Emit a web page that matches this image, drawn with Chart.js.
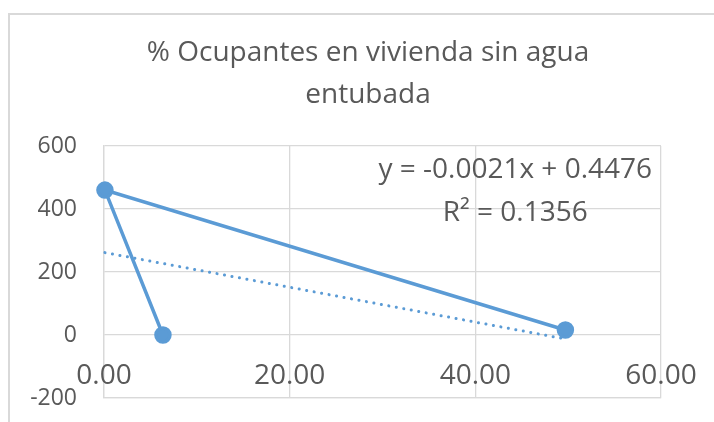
<!DOCTYPE html>
<html>
<head>
<meta charset="utf-8">
<script src="https://cdn.jsdelivr.net/npm/chart.js@4.4.1/dist/chart.umd.min.js"></script>
<style>
  body { margin: 0; background: #fff; }
  #wrap { position: relative; width: 714px; height: 422px; overflow: hidden; }
  #frame { position: absolute; left: 8px; top: 13px; width: 760px; height: 460px; border: 2px solid #D9D9D9; }
  canvas { position: absolute; left: 0; top: 0; }
</style>
</head>
<body>
<div id="wrap">
  <div id="frame"></div>
  <canvas id="scatterChart" width="714" height="422"></canvas>
</div>
<script>
const titleLines = ['% Ocupantes en vivienda sin agua', 'entubada']
const xValues = [6.35, 0.1, 49.7]
const yValues = [0, 460, 16]
const equationLines = ['y = -0.0021x + 0.4476', 'R² = 0.1356']

const blue = '#5B9BD5'
const grey = '#595959'
const gridColor = '#D9D9D9'
const fontFamily = '"Open Sans", "Noto Sans", sans-serif'

// linear trendline (least squares) over the plotted points
const n = xValues.length
const meanX = xValues.reduce((a, b) => a + b, 0) / n
const meanY = yValues.reduce((a, b) => a + b, 0) / n
let sxx = 0, sxy = 0
xValues.forEach((x, i) => {
    sxx += (x - meanX) * (x - meanX)
    sxy += (x - meanX) * (yValues[i] - meanY)
})
const slope = sxy / sxx
const intercept = meanY - slope * meanX
const minX = Math.min(...xValues)
const maxX = Math.max(...xValues)

// title, equation box and x tick labels (Excel puts these inside the plot)
const textLayer = {
    id: 'textLayer',
    afterDraw(chart) {
        const {ctx, scales} = chart
        ctx.save()
        ctx.fillStyle = grey
        ctx.textAlign = 'center'
        ctx.textBaseline = 'middle'

        ctx.font = '28px ' + fontFamily
        titleLines.forEach((line, i) => ctx.fillText(line, 368, 53 + i * 42))

        const cx = scales.x.getPixelForValue(44.3)
        ctx.fillText(equationLines[0], cx, scales.y.getPixelForValue(525))
        ctx.fillText(equationLines[1], cx, scales.y.getPixelForValue(387))

        ctx.font = '28px ' + fontFamily
        const ly = scales.y.getPixelForValue(-200) - 22
        scales.x.ticks.forEach(t => {
            ctx.fillText(t.value.toFixed(2), scales.x.getPixelForValue(t.value), ly)
        })
        ctx.restore()
    }
}

const ctl = document.getElementById('scatterChart')
window.newChart = new Chart(ctl, {
    type: 'scatter',
    data: {
        datasets: [
            {
                data: xValues.map((x, i) => ({x: x, y: yValues[i]})),
                showLine: true,
                borderColor: blue,
                backgroundColor: blue,
                borderWidth: 3.5,
                pointRadius: 7,
                pointHoverRadius: 7,
                clip: false,
                order: 1
            },
            {
                data: [
                    {x: minX, y: intercept + slope * minX},
                    {x: maxX, y: intercept + slope * maxX}
                ],
                showLine: true,
                borderColor: blue,
                borderWidth: 3,
                borderDash: [0.1, 7.5],
                borderCapStyle: 'round',
                pointRadius: 0,
                clip: false,
                order: 2
            }
        ]
    },
    options: {
        responsive: false,
        animation: false,
        events: [],
        layout: {
            padding: {left: 0, right: 53, top: 146, bottom: 0}
        },
        plugins: {
            legend: {display: false},
            tooltip: {enabled: false},
            title: {display: false}
        },
        scales: {
            x: {
                type: 'linear',
                position: 'bottom',
                min: 0,
                max: 60,
                afterFit: (scale) => { scale.height = 24 },
                ticks: {
                    stepSize: 20,
                    display: false
                },
                grid: {color: gridColor, lineWidth: 1.3, drawTicks: false},
                border: {color: gridColor, width: 1.3}
            },
            y: {
                type: 'linear',
                min: -200,
                max: 600,
                afterFit: (scale) => {
                    scale.width = 104
                    scale.paddingTop = 0
                    scale.paddingBottom = 0
                },
                ticks: {
                    stepSize: 200,
                    color: grey,
                    padding: 27,
                    font: {family: fontFamily, size: 23}
                },
                grid: {color: gridColor, lineWidth: 1.3, drawTicks: false},
                border: {color: gridColor, width: 1.3}
            }
        }
    },
    plugins: [textLayer]
})
</script>
</body>
</html>
